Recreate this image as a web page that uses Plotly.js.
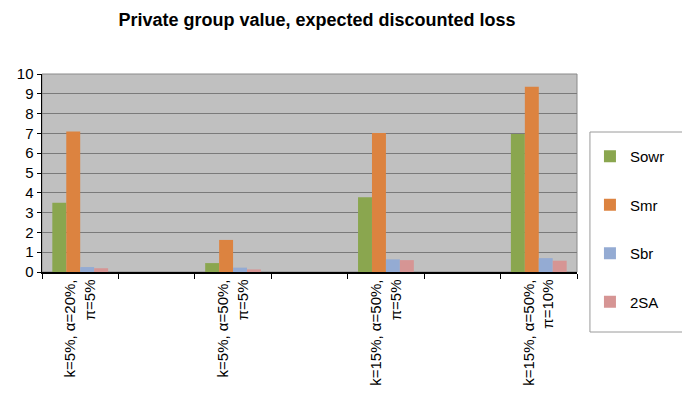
<!DOCTYPE html>
<html>
<head>
<meta charset="utf-8">
<script src="https://cdn.plot.ly/plotly-3.0.1.min.js"></script>
<style>html,body{margin:0;padding:0;background:#fff;}#chart{width:682px;height:406px;}</style>
</head>
<body>
<div id="chart"></div>
<script>
// Categories (blank slots between labelled groups, as in the original)
const categories = [
  "k=5%, α=20%,<br>π=5%",
  " ",
  "k=5%, α=50%,<br>π=5%",
  "  ",
  "k=15%, α=50%,<br>π=5%",
  "   ",
  "k=15%, α=50%,<br>π=10%"
];
const seriesNames = ["Sowr", "Smr", "Sbr", "2SA"];
const sowr = [3.5, null, 0.45, null, 3.78, null, 6.97];
const smr  = [7.1, null, 1.62, null, 7.02, null, 9.36];
const sbr  = [0.25, null, 0.22, null, 0.64, null, 0.70];
const sa2  = [0.19, null, 0.13, null, 0.60, null, 0.57];
const colors = ["#8aa64f", "#dc8340", "#94abd3", "#d69594"];
const yTicks = [0,1,2,3,4,5,6,7,8,9,10];

const values = [sowr, smr, sbr, sa2];
const traces = values.map((v, i) => ({
  type: "bar",
  name: seriesNames[i],
  x: categories,
  y: v,
  marker: {color: colors[i], line: {width: 0}},
  legendgroup: "g" + i
}));

const pw = 537, ph = 198, pl = 42, pb = 272;
const layout = {
  width: 682, height: 406,
  margin: {l: 42, r: 103, t: 74, b: 134, pad: 0},
  paper_bgcolor: "#ffffff",
  plot_bgcolor: "#c0c0c0",
  font: {family: "Liberation Sans, Arial, sans-serif", size: 14, color: "#000"},
  title: {
    text: "<b>Private group value, expected discounted loss</b>",
    font: {family: "Liberation Sans, Arial, sans-serif", size: 18, color: "#000"},
    x: 317/682, xref: "container", xanchor: "center",
    y: 1 - 20/406, yref: "container", yanchor: "middle"
  },
  barmode: "group",
  bargap: 0.27,
  bargroupgap: 0,
  xaxis: {
    type: "category",
    tickson: "boundaries",
    ticks: "outside", ticklen: 5, tickcolor: "#000",
    showgrid: false,
    tickangle: -90,
    tickfont: {size: 15},
    showline: true, linecolor: "#000", linewidth: 1.5,
    mirror: false,
    fixedrange: true
  },
  yaxis: {
    range: [0, 10],
    tickvals: yTicks,
    ticks: "outside", ticklen: 4, tickcolor: "#000",
    showgrid: true, gridcolor: "#7a7a7a", gridwidth: 1,
    zeroline: false,
    showline: true, linecolor: "#000", linewidth: 1.5,
    tickfont: {size: 15},
    fixedrange: true
  },
  shapes: [{
    type: "rect", xref: "paper", yref: "paper", x0: 0, x1: 1, y0: 0, y1: 1,
    line: {color: "#8a8a8a", width: 1}, fillcolor: "rgba(0,0,0,0)", layer: "below"
  }, {
    type: "rect", xref: "paper", yref: "paper",
    x0: (592 - pl) / pw, x1: (700 - pl) / pw,
    y0: (pb - 332) / ph, y1: (pb - 132) / ph,
    line: {color: "#9a9a9a", width: 1}, fillcolor: "rgba(0,0,0,0)", layer: "above"
  }],
  showlegend: true,
  legend: {
    x: (592 - pl) / pw, xanchor: "left",
    y: (pb - 140) / ph, yanchor: "top",
    borderwidth: 0,
    bgcolor: "rgba(0,0,0,0)",
    font: {size: 15},
    tracegroupgap: 26,
    itemwidth: 30
  }
};

Plotly.newPlot("chart", traces, layout, {staticPlot: true, displayModeBar: false});
</script>
</body>
</html>
